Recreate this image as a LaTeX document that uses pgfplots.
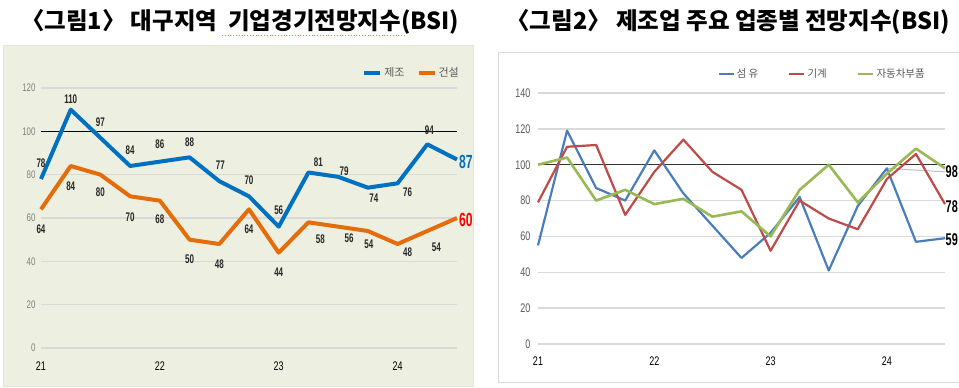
\documentclass[border=0pt]{standalone}
\usepackage{pgfplots}
\pgfplotsset{compat=1.18}
\usepackage{fontspec}
\setmainfont{Liberation Sans}
\newfontfamily\cjk{Noto Sans CJK KR}
\newfontfamily\narrow[FakeStretch=0.72]{Liberation Sans}
\newfontfamily\condfont[FakeStretch=0.64]{Liberation Sans}
\definecolor{bgone}{HTML}{EDF0E0}
\definecolor{bgedge}{HTML}{E2E6D2}
\definecolor{cblue}{HTML}{0070C0}
\definecolor{corange}{HTML}{E46C0A}
\definecolor{gridc}{HTML}{D9D9D9}
\definecolor{tickg}{HTML}{808080}
\definecolor{legg}{HTML}{595959}
\definecolor{tblue}{HTML}{4A7EBB}
\definecolor{tred}{HTML}{BE4B48}
\definecolor{tgreen}{HTML}{98B954}
\pgfplotstableread{
i manuf constr
0 78 64
1 110 84
2 97 80
3 84 70
4 86 68
5 88 50
6 77 48
7 70 64
8 56 44
9 81 58
10 79 56
11 74 54
12 76 48
13 94 54
14 87 60
}\figone
\pgfplotstableread{
i fiber machine auto
0 55 79 100
1 119 110 104
2 87 111 80
3 80 72 86
4 108 96 78
5 84 114 81
6 66 96 71
7 48 86 74
8 62 52 60
9 82 80 86
10 41 70 100
11 77 64 79
12 98 92 95
13 57 106 109
14 59 78 98
}\figtwo
\begin{document}
\begin{tikzpicture}
\useasboundingbox (0pt,0pt) rectangle (959pt,388pt);
\begin{scope}[x=1pt,y=1pt]
\fill[white] (0,0) rectangle (959,388);
\fill[bgone, draw=bgedge] (3,2) rectangle (473,343);
\draw[gridc, line width=1pt] (498,5) rectangle (962,335);
\node[font=\cjk\bfseries\fontsize{23.5}{23.5}\selectfont, inner sep=0pt] at (240,366) {〈그림1〉 대구지역 \ 기업경기전망지수(BSI)};
\draw[orange, dotted, line width=0.8pt] (222,353) -- (405,353);
\node[font=\cjk\bfseries\fontsize{23.5}{23.5}\selectfont, inner sep=0pt] at (728,366) {〈그림2〉 제조업 주요 업종별 전망지수(BSI)};
\end{scope}

% ---------- panel 1 ----------
\begin{axis}[at={(41pt,40pt)}, anchor=south west, scale only axis,
  width=416pt, height=260pt, xmin=0, xmax=14, ymin=0, ymax=120,
  clip=false, axis line style={draw=none}, major tick length=0pt,
  ytick={0,20,...,120}, ymajorgrids, grid style={gridc, line width=1.4pt},
  xtick={0,4,8,12}, xticklabels={21,22,23,24},
  /pgf/number format/assume math mode=true,
  yticklabel style={font=\narrow\fontsize{11}{11}\selectfont, text=tickg, xshift=-2pt},
  xticklabel style={font=\narrow\fontsize{12.5}{12.5}\selectfont, text=black, yshift=-10pt},
  legend style={at={(rel axis cs:1,1)}, anchor=east, xshift=4pt, yshift=15pt,
    draw=none, fill=none, inner sep=0pt, font=\cjk\fontsize{11}{11}\selectfont, text=legg,
    /tikz/every even column/.append style={column sep=10pt}},
  legend columns=-1,
  legend image code/.code={\draw[#1] (0pt,0pt) -- (16pt,0pt);}
]
\addplot[black, line width=1.3pt, forget plot] coordinates {(0,100) (14,100)};
\addplot[cblue, line width=4pt, line join=round] table[x=i, y=manuf] {\figone};
\addplot[corange, line width=4pt, line join=round] table[x=i, y=constr] {\figone};
\legend{제조, 건설}
\begin{scope}[every node/.style={font=\condfont\bfseries\fontsize{12.5}{12.5}\selectfont, text=black!85, inner sep=0pt}]
\node[xshift=0pt, yshift=16pt] at (axis cs:0,78) {78};
\node[yshift=10pt] at (axis cs:1,110) {110};
\node[yshift=16pt] at (axis cs:2,97) {97};
\node[yshift=16pt] at (axis cs:3,84) {84};
\node[yshift=17pt] at (axis cs:4,86) {86};
\node[yshift=15pt] at (axis cs:5,88) {88};
\node[xshift=1pt, yshift=16pt] at (axis cs:6,77) {77};
\node[yshift=16pt] at (axis cs:7,70) {70};
\node[yshift=16pt] at (axis cs:8,56) {56};
\node[xshift=10pt, yshift=10pt] at (axis cs:9,81) {81};
\node[xshift=6pt, yshift=6pt] at (axis cs:10,79) {79};
\node[xshift=6pt, yshift=-11pt] at (axis cs:11,74) {74};
\node[xshift=10pt, yshift=-9pt] at (axis cs:12,76) {76};
\node[xshift=2pt, yshift=14pt] at (axis cs:13,94) {94};
\node[yshift=-20pt] at (axis cs:0,64) {64};
\node[yshift=-20pt] at (axis cs:1,84) {84};
\node[yshift=-18pt] at (axis cs:2,80) {80};
\node[yshift=-21pt] at (axis cs:3,70) {70};
\node[yshift=-19pt] at (axis cs:4,68) {68};
\node[yshift=-20pt] at (axis cs:5,50) {50};
\node[yshift=-20pt] at (axis cs:6,48) {48};
\node[yshift=-20pt] at (axis cs:7,64) {64};
\node[yshift=-20pt] at (axis cs:8,44) {44};
\node[xshift=12pt, yshift=-17pt] at (axis cs:9,58) {58};
\node[xshift=11pt, yshift=-12pt] at (axis cs:10,56) {56};
\node[xshift=1pt, yshift=-13pt] at (axis cs:11,54) {54};
\node[xshift=10pt, yshift=-8pt] at (axis cs:12,48) {48};
\node[xshift=9pt, yshift=-16pt] at (axis cs:13,54) {54};
\end{scope}
\node[font=\condfont\bfseries\fontsize{19}{19}\selectfont, text=cblue, anchor=west, inner sep=0pt, xshift=2pt, yshift=-2pt] at (axis cs:14,87) {87};
\node[font=\condfont\bfseries\fontsize{19}{19}\selectfont, text=red, anchor=west, inner sep=0pt, xshift=2pt, yshift=-2pt] at (axis cs:14,60) {60};
\end{axis}

% ---------- panel 2 ----------
\begin{axis}[at={(538pt,44pt)}, anchor=south west, scale only axis,
  width=407pt, height=251pt, xmin=0, xmax=14, ymin=0, ymax=140,
  clip=false, axis line style={draw=none}, major tick length=0pt,
  ytick={0,20,...,140}, ymajorgrids, grid style={gridc, line width=1.4pt},
  xtick={0,4,8,12}, xticklabels={21,22,23,24},
  /pgf/number format/assume math mode=true,
  yticklabel style={font=\narrow\fontsize{12.5}{12.5}\selectfont, text=legg, xshift=-4pt},
  xticklabel style={font=\narrow\fontsize{12.5}{12.5}\selectfont, text=black, yshift=-9pt},
  legend style={at={(rel axis cs:1,1)}, anchor=east, xshift=-18pt, yshift=19pt,
    draw=none, fill=none, inner sep=0pt, font=\cjk\fontsize{10.5}{10.5}\selectfont, text=legg,
    /tikz/every even column/.append style={column sep=28pt}},
  legend columns=-1,
  legend image code/.code={\draw[#1] (0pt,0pt) -- (15pt,0pt);}
]
\addplot[black!80, line width=1.3pt, forget plot] coordinates {(0,100) (14,100)};
\addplot[black!25, line width=1pt, forget plot] coordinates {(12,98) (14,96)};
\addplot[tblue, line width=2.2pt, line join=round] table[x=i, y=fiber] {\figtwo};
\addplot[tred, line width=2.2pt, line join=round] table[x=i, y=machine] {\figtwo};
\addplot[tgreen, line width=2.6pt, line join=round] table[x=i, y=auto] {\figtwo};
\legend{섬 유, 기계, 자동차부품}
\begin{scope}[every node/.style={font=\condfont\bfseries\fontsize{17}{17}\selectfont, text=black, anchor=west, inner sep=0pt, xshift=0.5pt}]
\node[yshift=-3.5pt] at (axis cs:14,98) {98};
\node[yshift=-2pt] at (axis cs:14,78) {78};
\node[yshift=-1pt] at (axis cs:14,59) {59};
\end{scope}
\end{axis}
\end{tikzpicture}
\end{document}
